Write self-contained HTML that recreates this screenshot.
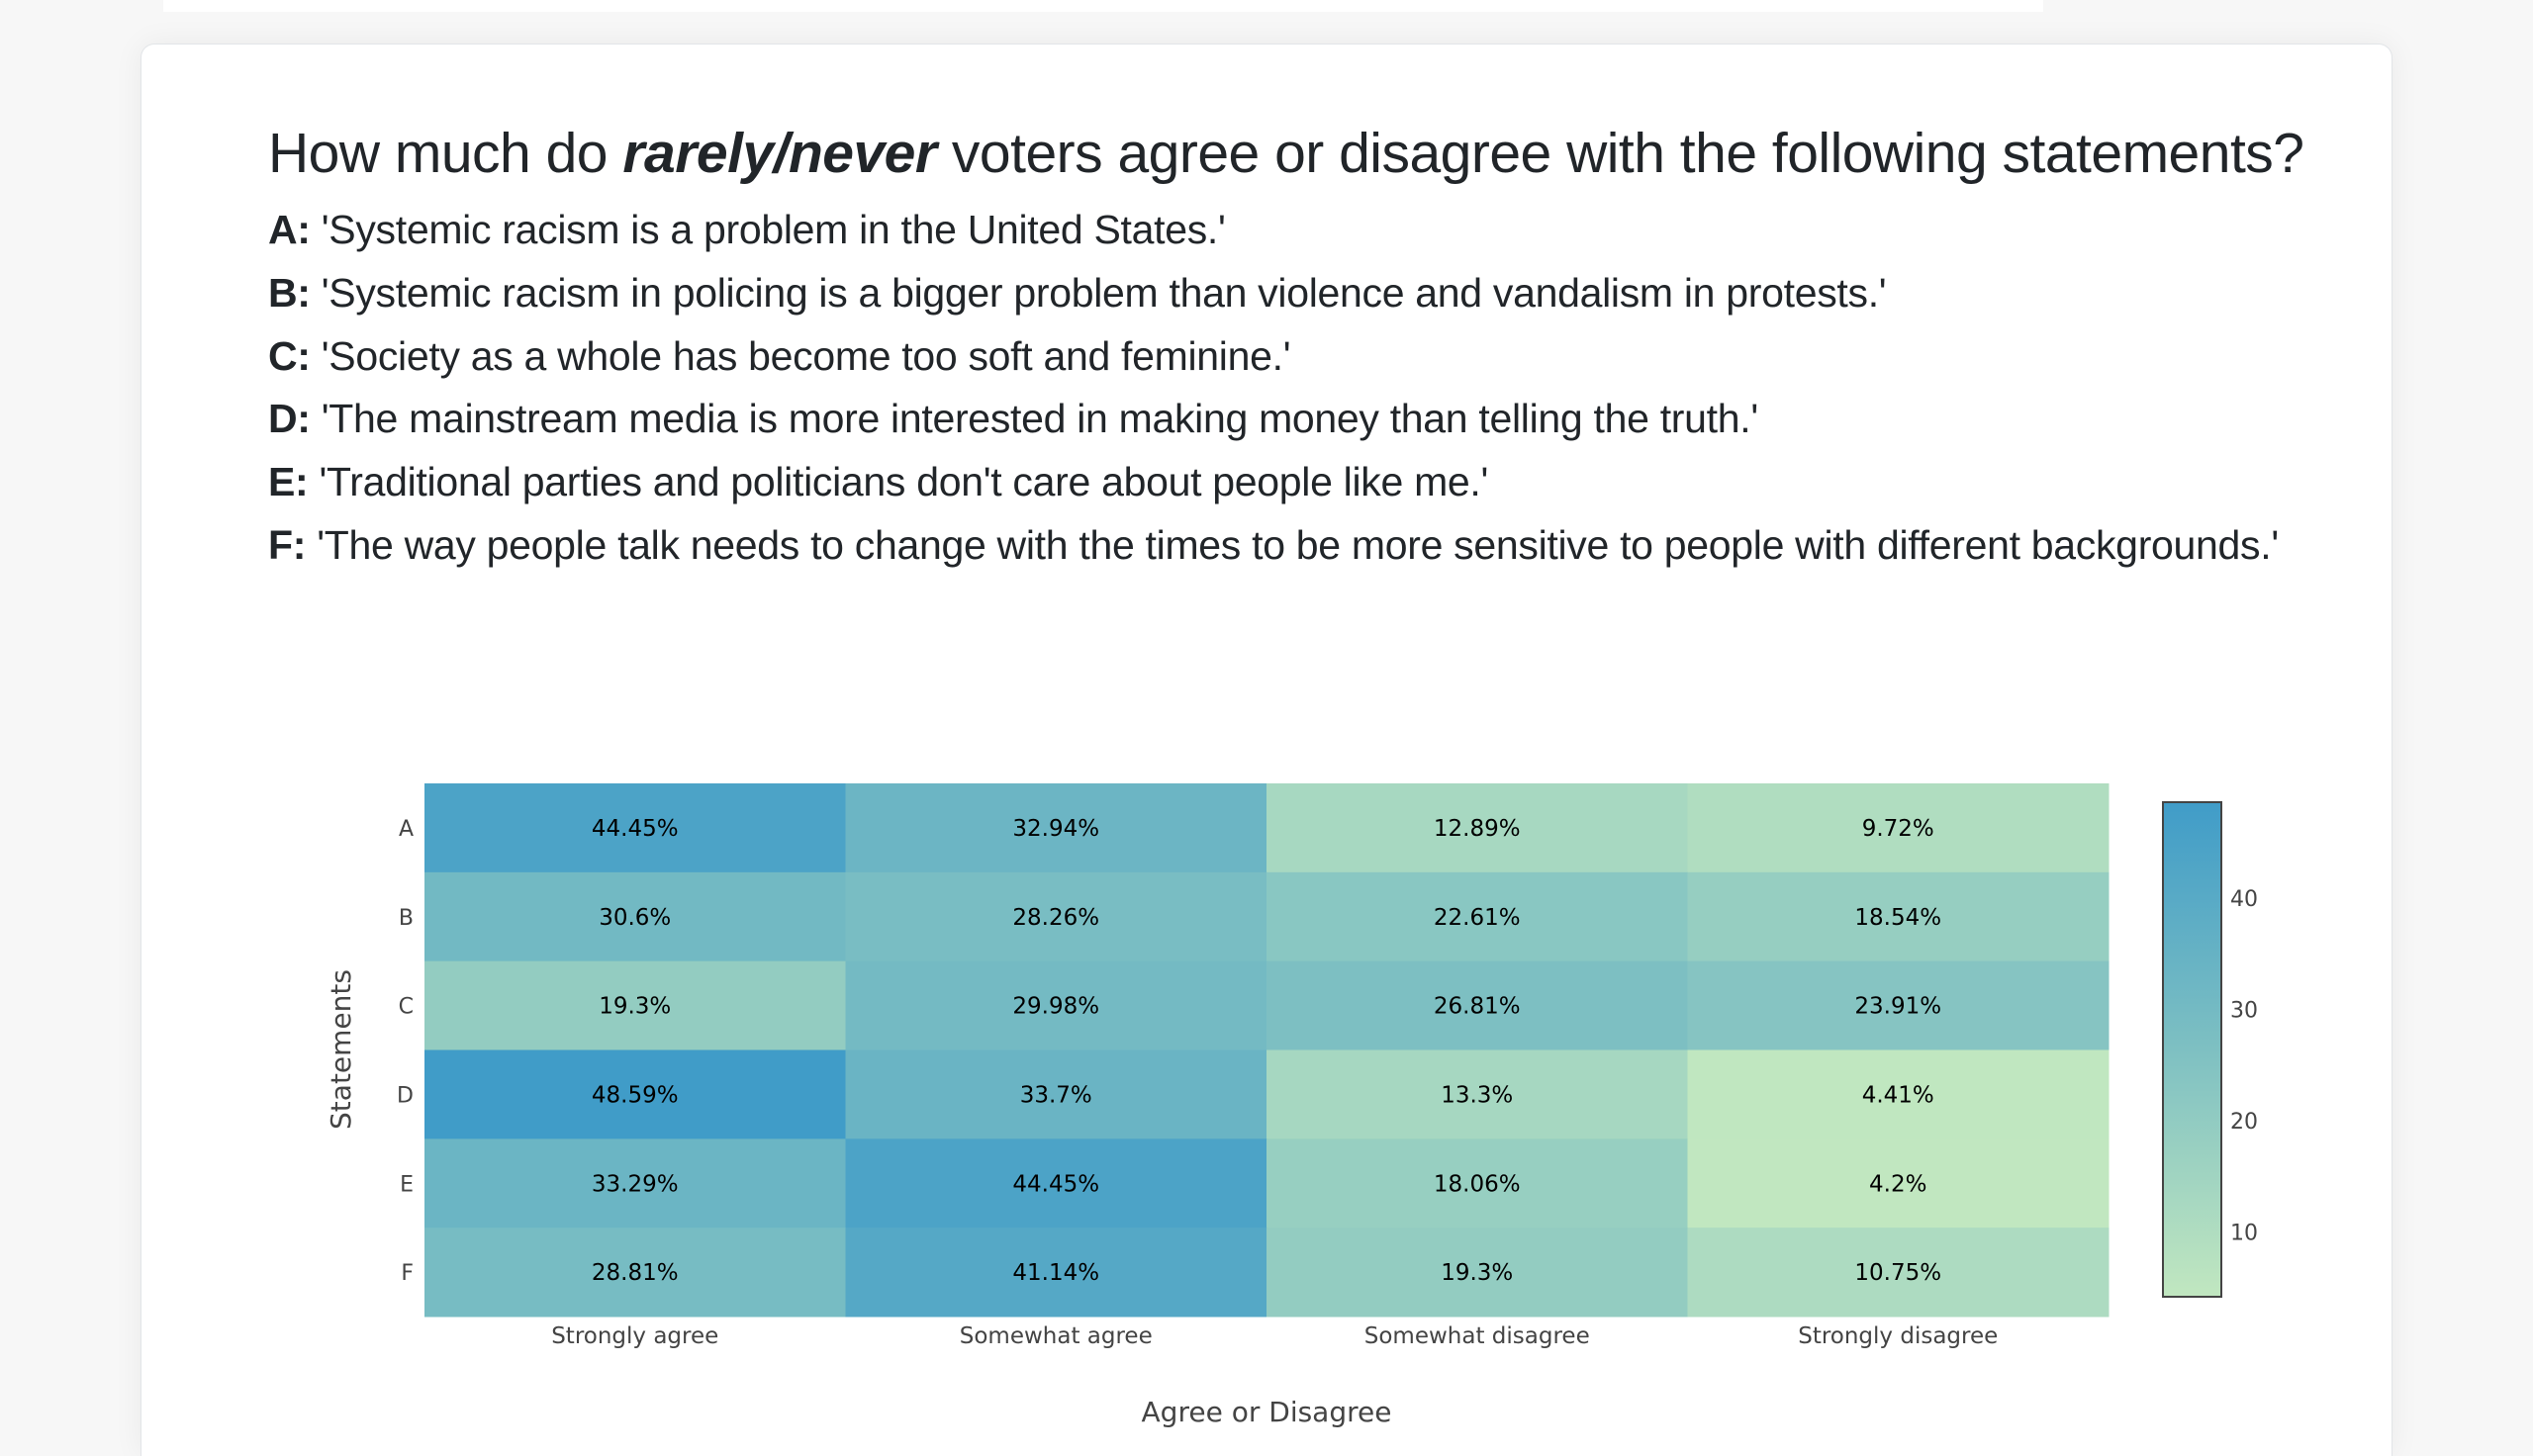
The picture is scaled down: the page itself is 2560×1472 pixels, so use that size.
<!DOCTYPE html>
<html><head><meta charset="utf-8"><style>
html,body{margin:0;padding:0;width:2560px;height:1472px;overflow:hidden;background:#f7f7f7;font-family:"Liberation Sans",sans-serif;position:relative;}
.topbar{position:absolute;left:165px;top:0;width:1900px;height:12px;background:#fff;}
.card{position:absolute;left:142px;top:44px;width:2276px;height:1428px;background:#fff;border:1px solid #e2e5e8;border-bottom:none;border-radius:14px 14px 0 0;box-shadow:0 0 30px rgba(0,0,0,0.06);box-sizing:border-box;}
h1{position:absolute;left:271px;top:122px;margin:0;font-size:57px;font-weight:normal;color:#212529;white-space:nowrap;letter-spacing:-0.5px;}
.st{position:absolute;left:271px;font-size:41px;color:#212529;white-space:nowrap;letter-spacing:-0.3px;}
svg{position:absolute;left:0;top:0;}
</style></head><body>
<div class="topbar"></div>
<div class="card"></div>
<h1>How much do <b><i>rarely/never</i></b> voters agree or disagree with the following statements?</h1>
<div class="st" style="top:209px"><b>A:</b> 'Systemic racism is a problem in the United States.'</div>
<div class="st" style="top:273px"><b>B:</b> 'Systemic racism in policing is a bigger problem than violence and vandalism in protests.'</div>
<div class="st" style="top:337px"><b>C:</b> 'Society as a whole has become too soft and feminine.'</div>
<div class="st" style="top:400px"><b>D:</b> 'The mainstream media is more interested in making money than telling the truth.'</div>
<div class="st" style="top:464px"><b>E:</b> 'Traditional parties and politicians don't care about people like me.'</div>
<div class="st" style="top:528px"><b>F:</b> 'The way people talk needs to change with the times to be more sensitive to people with different backgrounds.'</div>
<svg id="chart" width="2560" height="1472">
<defs><linearGradient id="cg" x1="0" y1="1" x2="0" y2="0">
<stop offset="0" stop-color="rgb(193,231,192)"/><stop offset="0.5" stop-color="rgb(126,192,194)"/><stop offset="1" stop-color="rgb(64,156,200)"/></linearGradient></defs>
</svg>
<script>
const rows=['A','B','C','D','E','F'];
const cols=['Strongly agree','Somewhat agree','Somewhat disagree','Strongly disagree'];
const rowA=[44.45,32.94,12.89,9.72];
const rowB=[30.6,28.26,22.61,18.54];
const rowC=[19.3,29.98,26.81,23.91];
const rowD=[48.59,33.7,13.3,4.41];
const rowE=[33.29,44.45,18.06,4.2];
const rowF=[28.81,41.14,19.3,10.75];
const cbTicks=[10,20,30,40];
const values=[rowA,rowB,rowC,rowD,rowE,rowF];
const svg=document.getElementById('chart');
const NS='http://www.w3.org/2000/svg';
const X0=429,X1=2131,Y0=792,Y1=1331;
const all=values.flat();const zmin=Math.min(...all),zmax=Math.max(...all);
const cw=(X1-X0)/cols.length,rh=(Y1-Y0)/rows.length;
const xPos=i=>X0+i*cw, yPos=j=>Y0+j*rh;
const stops=[[0,[193,231,192]],[0.5,[126,192,194]],[1,[64,156,200]]];
function color(v){let t=(v-zmin)/(zmax-zmin);t=Math.max(0,Math.min(1,t));
 for(let k=0;k<stops.length-1;k++){const[a,ca]=stops[k],[b,cb]=stops[k+1];if(t<=b){const u=(t-a)/(b-a);return 'rgb('+ca.map((c,i)=>Math.round(c+(cb[i]-c)*u)).join(',')+')';}}}
function mk(tag,attrs,txt){const e=document.createElementNS(NS,tag);for(const k in attrs)e.setAttribute(k,attrs[k]);if(txt!==undefined)e.textContent=txt;svg.appendChild(e);return e;}
values.forEach((row,j)=>row.forEach((v,i)=>{
 const r=mk('rect',{x:xPos(i),y:yPos(j),width:cw+0.5,height:rh+0.5,fill:color(v)});
 
 
 const t=mk('text',{x:xPos(i)+cw/2,y:yPos(j)+rh/2+8,'text-anchor':'middle','font-size':23,fill:'#000','font-family':'DejaVu Sans, sans-serif'},v+'%');
 
 
}));
rows.forEach((r,j)=>{const t=mk('text',{x:418,y:yPos(j)+rh/2+8,'text-anchor':'end','font-size':22,fill:'#444','font-family':'DejaVu Sans, sans-serif'},r);
 
 });
cols.forEach((c,i)=>{const t=mk('text',{x:xPos(i)+cw/2,y:1358,'text-anchor':'middle','font-size':23,fill:'#444','font-family':'DejaVu Sans, sans-serif'},c);
 
 });
const xt=mk('text',{x:(X0+X1)/2,y:1437,'text-anchor':'middle','font-size':28,fill:'#444','font-family':'DejaVu Sans, sans-serif'},'Agree or Disagree');


const yt=mk('text',{x:0,y:0,'text-anchor':'middle','font-size':28,fill:'#444','font-family':'DejaVu Sans, sans-serif',transform:'translate(354,1061) rotate(-90)'},'Statements');


const CB0=811,CB1=1311;
const cb=mk('rect',{x:2186,y:CB0,width:59,height:CB1-CB0,fill:'url(#cg)',stroke:'#444','stroke-width':2});


const cbY=v=>CB1-(v-zmin)/(zmax-zmin)*(CB1-CB0);
cbTicks.forEach(v=>{const t=mk('text',{x:2254,y:cbY(v)+8,'font-size':22,fill:'#444','font-family':'DejaVu Sans, sans-serif'},String(v));
 
 });
</script>
</body></html>
